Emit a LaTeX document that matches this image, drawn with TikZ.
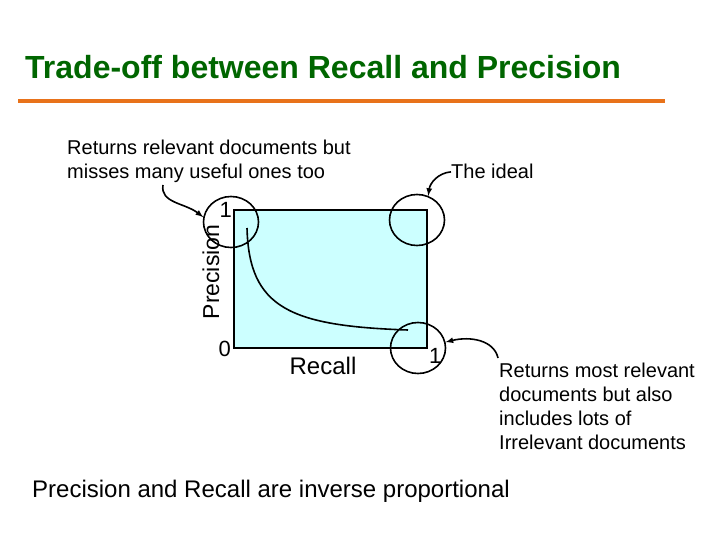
\documentclass[tikz,border=0pt]{standalone}
\usepackage{fontspec}
\setmainfont{Liberation Sans}
\usetikzlibrary{arrows,shapes.geometric}
\definecolor{titlegreen}{RGB}{0,102,0}
\definecolor{rulecolor}{RGB}{232,114,26}
\definecolor{plotfill}{RGB}{204,255,255}

\begin{document}
\begin{tikzpicture}[x=1pt, y=-1pt, >=latex,
  txt/.style={inner sep=0pt, font=\fontsize{20}{24.5}\selectfont},
  digit/.style={inner sep=0pt, font=\fontsize{22}{26}\selectfont},
  ring/.style={draw, ellipse, line width=1.6pt, minimum width=55pt, minimum height=51pt, inner sep=0pt},
  pointer/.style={->, line width=1.6pt}]
  \useasboundingbox (0,0) rectangle (720,540);
  % heading
  \node[anchor=base west, inner sep=0pt, text=titlegreen, font=\fontsize{32}{38}\selectfont\bfseries] (title) at (25,79) {Trade-off between Recall and Precision};
  \coordinate (rule-l) at (18,101);
  \coordinate (rule-r) at (665,101);
  \draw[rulecolor, line width=4pt] (rule-l) -- (rule-r);
  % plot
  \node[draw, fill=plotfill, line width=2pt, minimum width=193pt, minimum height=138pt, inner sep=0pt, anchor=north west] (box) at (233,209) {};
  \coordinate (c-top) at (247,228);
  \coordinate (c-end) at (408,330);
  \draw[line width=1.6pt] (c-top) .. controls (249,308) and (290,326) .. (c-end);
  \node[digit, anchor=base east] (p-one) at (232,218) {1};
  \node[digit, anchor=base east] (p-zero) at (231,356) {0};
  \node[digit, anchor=base west] (r-one) at (429,363) {1};
  \node[txt, anchor=base, font=\fontsize{24}{28}\selectfont] (recall) at (323,374) {Recall};
  \node[txt, anchor=base, rotate=90, font=\fontsize{23}{28}\selectfont] (precision) at (219,272) {Precision};
  \node[ring] (ring-tl) at (231,222) {};
  \node[ring] (ring-tr) at (417,220) {};
  \node[ring] (ring-br) at (418,348) {};
  % notes
  \node[txt, anchor=north west, align=left] (few) at (67,139.5) {Returns relevant documents but\\misses many useful ones too};
  \node[txt, anchor=base west] (ideal) at (451,179) {The ideal};
  \node[txt, anchor=north west, align=left, font=\fontsize{20}{24}\selectfont] (many) at (499,362.5) {Returns most relevant\\documents but also\\includes lots of\\Irrelevant documents};
  \node[txt, anchor=base west, font=\fontsize{24}{28}\selectfont] (summary) at (32,497) {Precision and Recall are inverse proportional};
  \coordinate (few-tail) at (163,185);
  \coordinate (many-tail) at (498,358);
  \draw[pointer] (few-tail) .. controls (160,203) and (185,203) .. (ring-tl.170);
  \draw[pointer] (ideal.west) .. controls (438,173) and (430,183) .. (ring-tr.65);
  \draw[pointer] (many-tail) .. controls (494,340) and (470,336) .. (ring-br.12);
\end{tikzpicture}
\end{document}
